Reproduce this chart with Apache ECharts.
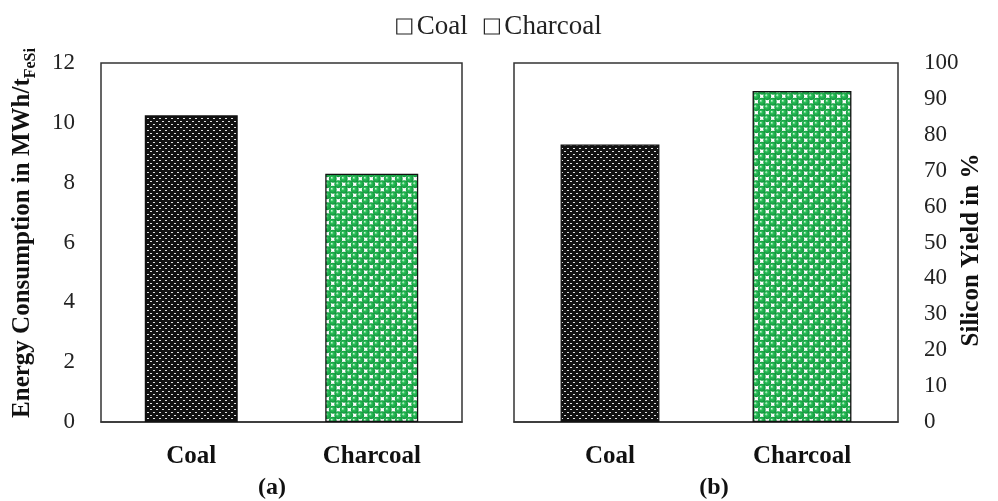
<!DOCTYPE html>
<html><head><meta charset="utf-8">
<script src="https://cdn.jsdelivr.net/npm/echarts@6/dist/echarts.min.js"></script>
<style>html,body{margin:0;padding:0;background:#fff}#c{width:998px;height:501px}</style>
</head><body><div id="c"></div>
<script>
const categories = ['Coal', 'Charcoal'];
const seriesNames = ['Coal', 'Charcoal'];
const energy = [10.25, 8.3];      // MWh/t FeSi
const siYield = [77.3, 92.2];     // %
const energyTicks = {min: 0, max: 12, interval: 2};
const yieldTicks = {min: 0, max: 100, interval: 10};

const FONT = '"Liberation Serif", "DejaVu Serif", serif';

function coalPattern() {
  const c = document.createElement('canvas');
  c.width = 6; c.height = 6;
  const g = c.getContext('2d');
  g.fillStyle = '#111'; g.fillRect(0, 0, 6, 6);
  g.fillStyle = '#e0e0e0';
  g.fillRect(0, 1, 2, 1);
  g.fillRect(3, 4, 2, 1);
  return c;
}
function charcoalPattern() {
  const s = 11, h = s / 2;
  const c = document.createElement('canvas');
  c.width = s; c.height = s;
  const g = c.getContext('2d');
  g.fillStyle = '#ffffff'; g.fillRect(0, 0, s, s);
  const q = s / 4;
  const pts = [[q, q], [q + h, q + h], [q - h, q + h], [q + s, q], [q + h, q - h], [q, q + s], [q + s, q + s]];
  pts.forEach(([x, y]) => {
    const rg = g.createRadialGradient(x - 1.2, y - 1.2, 0.3, x, y, 4);
    rg.addColorStop(0, '#c8f5d2');
    rg.addColorStop(0.3, '#2cc05a');
    rg.addColorStop(1, '#0c9238');
    g.fillStyle = rg;
    g.beginPath(); g.arc(x, y, 3.9, 0, Math.PI * 2); g.fill();
  });
  return c;
}
const fills = [
  {image: coalPattern(), repeat: 'repeat'},
  {image: charcoalPattern(), repeat: 'repeat'}
];

function panelSeries(values, idx) {
  return seriesNames.map((name, i) => ({
    name: name,
    type: 'bar',
    xAxisIndex: idx, yAxisIndex: idx,
    barWidth: '51.5%',
    barGap: '-100%',
    data: categories.map((c, j) => (j === i ? values[j] : '-')),
    itemStyle: {color: fills[i], borderColor: '#111', borderWidth: 1.3},
    emphasis: {disabled: true}
  }));
}

const axisLabelStyle = {color: '#222', fontFamily: FONT, fontSize: 23};
const catLabel = {color: '#111', fontFamily: FONT, fontSize: 25, fontWeight: 'bold', margin: 22};

const chart = echarts.init(document.getElementById('c'), null, {renderer: 'canvas'});
chart.setOption({
  animation: false,
  backgroundColor: '#fff',
  legend: {
    data: seriesNames,
    top: 8, left: 'center',
    itemWidth: 15, itemHeight: 15, itemGap: 16,
    icon: 'rect',
    itemStyle: {color: '#fff', borderColor: '#222', borderWidth: 1.2},
    textStyle: {fontFamily: FONT, fontSize: 27, color: '#222'},
    selectedMode: false
  },
  grid: [
    {left: 101, right: 536, top: 63, bottom: 79, show: true, borderColor: '#333', borderWidth: 1.5, backgroundColor: '#fff'},
    {left: 514, right: 100, top: 63, bottom: 79, show: true, borderColor: '#333', borderWidth: 1.5, backgroundColor: '#fff'}
  ],
  xAxis: [0, 1].map(i => ({
    type: 'category', gridIndex: i, data: categories,
    axisLine: {show: true, lineStyle: {color: '#333', width: 1.5}},
    axisTick: {show: false},
    axisLabel: catLabel
  })),
  yAxis: [
    Object.assign({type: 'value', gridIndex: 0, position: 'left',
      axisLine: {show: false}, axisTick: {show: false}, splitLine: {show: false},
      axisLabel: Object.assign({margin: 26}, axisLabelStyle)}, energyTicks),
    Object.assign({type: 'value', gridIndex: 1, position: 'right',
      axisLine: {show: false}, axisTick: {show: false}, splitLine: {show: false},
      axisLabel: Object.assign({margin: 26}, axisLabelStyle)}, yieldTicks)
  ],
  graphic: [
    {type: 'text', x: 23, y: 233, rotation: Math.PI / 2,
      style: {text: '{m|Energy Consumption in MWh/t}{s|FeSi}', align: 'center', verticalAlign: 'middle',
        rich: {
          m: {fontFamily: FONT, fontSize: 25, fontWeight: 'bold', fill: '#111', lineHeight: 32, verticalAlign: 'middle'},
          s: {fontFamily: FONT, fontSize: 16, fontWeight: 'bold', fill: '#111', lineHeight: 14, verticalAlign: 'bottom'}
        }}},
    {type: 'text', x: 972, y: 250, rotation: Math.PI / 2,
      style: {text: 'Silicon Yield in %', align: 'center', verticalAlign: 'middle',
        fontFamily: FONT, fontSize: 25, fontWeight: 'bold', fill: '#111'}},
    {type: 'text', x: 272, y: 488,
      style: {text: '(a)', align: 'center', verticalAlign: 'middle', fontFamily: FONT, fontSize: 24, fontWeight: 'bold', fill: '#111'}},
    {type: 'text', x: 714, y: 488,
      style: {text: '(b)', align: 'center', verticalAlign: 'middle', fontFamily: FONT, fontSize: 24, fontWeight: 'bold', fill: '#111'}}
  ],
  series: panelSeries(energy, 0).concat(panelSeries(siYield, 1))
});
</script></body></html>
